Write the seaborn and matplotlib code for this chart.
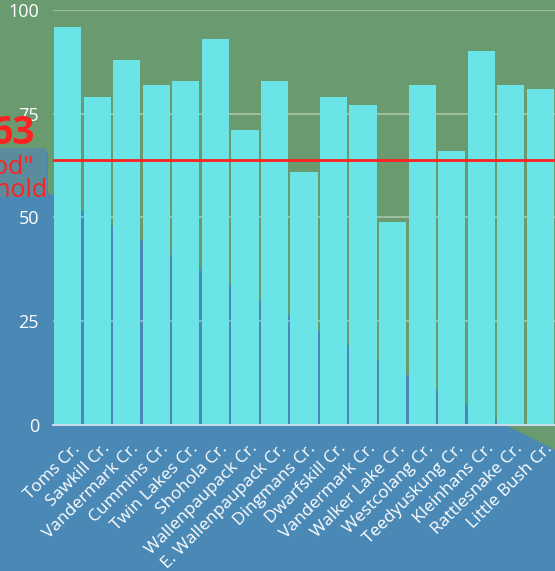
# Basics
import numpy as np
import pandas as pd

# Visualization
import matplotlib.pyplot as plt
import matplotlib.patches as mpatches
import matplotlib.transforms as mtransforms
import seaborn as sns

# Data
streams = ['Toms Cr.', 'Sawkill Cr.', 'Vandermark Cr.', 'Cummins Cr.', 'Twin Lakes Cr.',
           'Shohola Cr.', 'Wallenpaupack Cr.', 'E. Wallenpaupack Cr.', 'Dingmans Cr.',
           'Dwarfskill Cr.', 'Vandermark Cr.', 'Walker Lake Cr.', 'Westcolang Cr.',
           'Teedyuskung Cr.', 'Kleinhans Cr.', 'Rattlesnake Cr.', 'Little Bush Cr.']
scores = [96, 79, 88, 82, 83, 93, 71, 83, 61, 79, 77, 49, 82, 66, 90, 82, 81]
threshold = 63.8
threshold_label = '63'
y_ticks = [0, 25, 50, 75, 100]

# Colours
green = '#6a9a6f'
blue = '#4a88b6'
cyan = '#6ae4e6'
red = '#ff2020'

W, H = 555, 571

def fx(px):
    return px / W

def fy(py):
    return 1 - py / H

# Instantiate the figure
fig = plt.figure(figsize=(W / 100, H / 100), dpi=100)
fig.patch.set_facecolor(green)

# Blue background shape
blue_shape = mpatches.Polygon(
    [(fx(0), fy(148)), (fx(44), fy(148)), (fx(48), fy(153)), (fx(48), fy(193)),
     (fx(555), fy(450)), (fx(555), fy(571)), (fx(0), fy(571))],
    closed=True, transform=fig.transFigure, facecolor=blue, edgecolor='none', zorder=-2)
fig.patches.append(blue_shape)

# Box behind the threshold label
label_box = mpatches.FancyBboxPatch(
    (fx(-10), fy(197)), fx(56), fy(148) - fy(197),
    boxstyle='round,pad=0,rounding_size=0.01', transform=fig.transFigure,
    facecolor='#5a8c9c', edgecolor='none', zorder=-1)
fig.patches.append(label_box)

ax = fig.add_axes([fx(53), fy(425), fx(555) - fx(53), fy(10) - fy(425)])
ax.set_facecolor('none')
ax.set_zorder(1)

# Bars
df = pd.DataFrame({'pos': range(len(streams)), 'score': scores})
sns.barplot(data=df, x='pos', y='score', color=cyan, saturation=1, width=0.92,
            ax=ax, zorder=2)

# Threshold line
ax.axhline(threshold, color=red, linewidth=2, zorder=3)

# Formatting
ax.set_ylim(0, 100)
ax.set_xlim(-0.5, len(streams) - 0.5)
ax.set_yticks(y_ticks)
ax.set_yticklabels([str(t) for t in y_ticks], color='white', fontsize=13, family='Open Sans')
ax.set_xticks(range(len(streams)))
ax.set_xticklabels(streams, rotation=45, ha='right', rotation_mode='anchor',
                   color='white', fontsize=12.5, family='Open Sans')
ax.tick_params(axis='both', length=0)
ax.tick_params(axis='y', pad=10)
ax.tick_params(axis='x', pad=4)

# Shift the rotated labels so they end right of the bar centre
offset = mtransforms.ScaledTranslation(4 / 100, -10 / 100, fig.dpi_scale_trans)
for label in ax.get_xticklabels():
    label.set_transform(label.get_transform() + offset)

ax.set_xlabel('')
ax.set_ylabel('')
ax.yaxis.grid(True, color='white', alpha=0.35, linewidth=1.5, zorder=1)
ax.set_axisbelow(True)
for side in ['left', 'right', 'top']:
    ax.spines[side].set_visible(False)
ax.spines['bottom'].set_color('#c8dcec')
ax.spines['bottom'].set_linewidth(1.5)
ax.spines['bottom'].set_zorder(4)

# Threshold annotation
fig.text(fx(35), fy(134), threshold_label, color=red, fontsize=28, fontweight='bold',
         ha='right', va='center', family='Open Sans')
fig.text(fx(48), fy(179), '"Good"\nthreshold', color=red, fontsize=18,
         ha='right', va='center', multialignment='center', linespacing=0.9, family='Open Sans')

fig.savefig('out.png', dpi=100, facecolor=fig.get_facecolor())
